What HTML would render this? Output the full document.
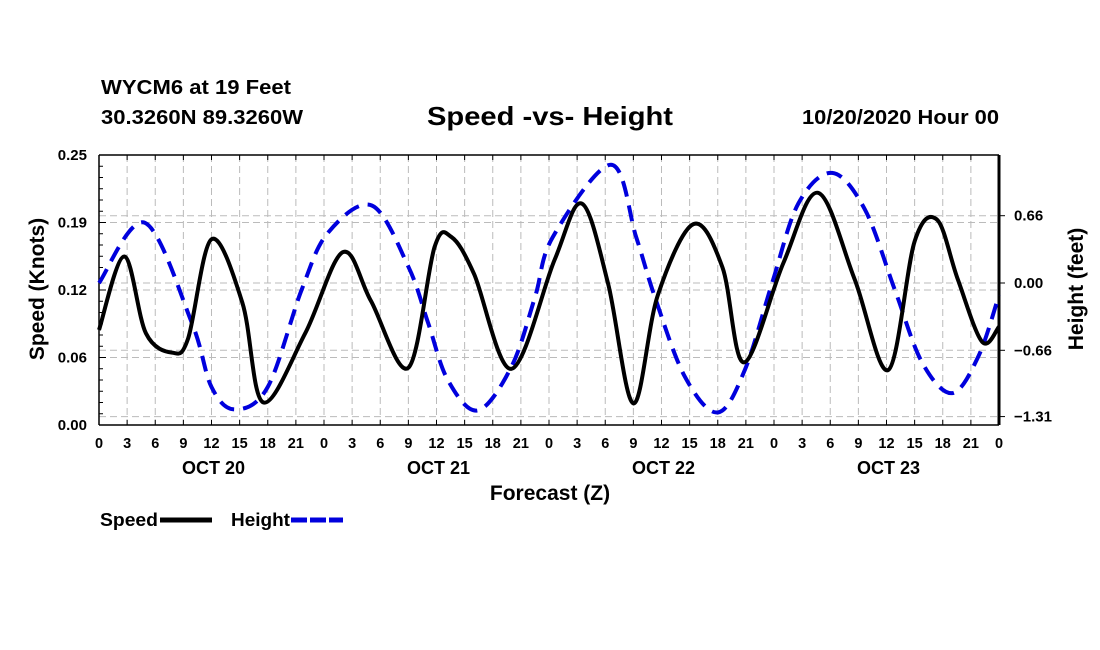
<!DOCTYPE html>
<html><head><meta charset="utf-8"><style>
body{margin:0;background:#fff;width:1100px;height:650px;overflow:hidden}
svg{display:block;font-family:"Liberation Sans",Arial,sans-serif;font-weight:bold}
</style></head><body>
<svg id="c" width="1100" height="650"></svg>
<script>
const speedHours=[0,2.7,5,7.8,9.5,12,15.3,17.5,22,26,29,33,35.8,37.6,40,44,48.6,51.5,54.3,57,59.6,63.4,66.5,68.8,73,76.7,80.6,84.2,87,89.4,91.6,94.2,96];
const speedVals=[0.088,0.156,0.085,0.067,0.08,0.172,0.113,0.021,0.085,0.160,0.115,0.053,0.165,0.174,0.14,0.052,0.153,0.205,0.131,0.020,0.120,0.186,0.146,0.058,0.15,0.215,0.135,0.051,0.170,0.190,0.135,0.077,0.091];
const heightHours=[0,4.9,9.9,12,14.5,18,21.6,24.4,29.1,33,35.1,37.2,40.4,44,46.5,48.4,54.6,57.3,59.3,62.5,66,68.9,71.8,74.6,78.2,81.7,84.9,87.8,91,93.8,96];
const heightVals=[0.0,0.59,-0.39,-1.02,-1.24,-1.02,-0.07,0.49,0.76,0.16,-0.39,-0.95,-1.25,-0.82,-0.14,0.45,1.16,0.45,-0.14,-0.92,-1.27,-0.85,0.0,0.78,1.08,0.72,-0.07,-0.78,-1.08,-0.72,-0.12];
const leftTicks=[0,0.0625,0.125,0.1875,0.25];
const leftLabels=["0.00","0.06","0.12","0.19","0.25"];
const rightTicks=[0.66,0,-0.66,-1.31];
const rightLabels=["0.66","0.00","\u22120.66","\u22121.31"];
const hourLabels=["0","3","6","9","12","15","18","21"];
const dayLabels=["OCT 20","OCT 21","OCT 22","OCT 23"];

const X0=99,X1=999,Y0=155,Y1=425;
const xs=h=>X0+h*(X1-X0)/96;
const yL=v=>Y1-v/0.25*(Y1-Y0);
const yR=v=>283-v/0.66*67.3;
const svg=document.getElementById('c');
const NS='http://www.w3.org/2000/svg';
function mk(t,a,txt){const e=document.createElementNS(NS,t);for(const k in a)e.setAttribute(k,a[k]);if(txt!==undefined)e.textContent=txt;svg.appendChild(e);return e;}

let e;
e=mk('text',{x:101,y:94,'font-size':20,textLength:190,lengthAdjust:'spacingAndGlyphs'},'WYCM6 at 19 Feet');

e=mk('text',{x:101,y:124,'font-size':20,textLength:202,lengthAdjust:'spacingAndGlyphs'},'30.3260N 89.3260W');

e=mk('text',{x:427,y:125,'font-size':26,textLength:246,lengthAdjust:'spacingAndGlyphs'},'Speed -vs- Height');

e=mk('text',{x:802,y:124,'font-size':20,textLength:197,lengthAdjust:'spacingAndGlyphs'},'10/20/2020 Hour 00');


for(let h=3;h<96;h+=3){e=mk('line',{x1:xs(h),x2:xs(h),y1:Y0,y2:Y1,stroke:'#bbb','stroke-dasharray':'7,4'});
}
leftTicks.slice(1,4).forEach(v=>{e=mk('line',{x1:X0,x2:X1,y1:yL(v),y2:yL(v),stroke:'#bbb','stroke-dasharray':'7,4'});
});
rightTicks.forEach(v=>{e=mk('line',{x1:X0,x2:X1,y1:yR(v),y2:yR(v),stroke:'#bbb','stroke-dasharray':'7,4'});
});

e=mk('line',{x1:X0,x2:X1,y1:Y0,y2:Y0,stroke:'#000','stroke-width':1.5});
e=mk('line',{x1:X0,x2:X1,y1:Y1,y2:Y1,stroke:'#000','stroke-width':1.5});
e=mk('line',{x1:X0,x2:X0,y1:Y0,y2:Y1,stroke:'#000','stroke-width':1.5});
e=mk('line',{x1:X1,x2:X1,y1:Y0,y2:Y1,stroke:'#000','stroke-width':3});

for(let h=0;h<=96;h+=3){
 mk('line',{x1:xs(h),x2:xs(h),y1:Y1,y2:Y1-5,stroke:'#000'});
 mk('line',{x1:xs(h),x2:xs(h),y1:Y0,y2:Y0+5,stroke:'#000'});
 e=mk('text',{x:xs(h),y:448,'font-size':14.5,'text-anchor':'middle'},hourLabels[(h/3)%8]);
 
}
dayLabels.forEach((d,i)=>{e=mk('text',{x:xs(12+24*i)+2,y:474,'font-size':18,'text-anchor':'middle'},d);
});
e=mk('text',{x:550,y:500,'font-size':21,'text-anchor':'middle'},'Forecast (Z)');


for(let i=0;i<=24;i++){const y=Y1-i*(Y1-Y0)/24;mk('line',{x1:X0,x2:X0+(i%6==0?7:4),y1:y,y2:y,stroke:'#000'});}
leftTicks.forEach((v,i)=>{e=mk('text',{x:87,y:yL(v)+5,'font-size':15,'text-anchor':'end'},leftLabels[i]);
});
rightTicks.forEach((v,i)=>{mk('line',{x1:X1,x2:X1+6,y1:yR(v),y2:yR(v),stroke:'#000'});
e=mk('text',{x:1014,y:yR(v)+5,'font-size':15},rightLabels[i]);
});
e=mk('text',{x:0,y:0,'font-size':21,'text-anchor':'middle',transform:'translate(44,289) rotate(-90)'},'Speed (Knots)');

e=mk('text',{x:0,y:0,'font-size':21,'text-anchor':'middle',transform:'translate(1083,289) rotate(-90)'},'Height (feet)');


function smooth(pts){let d='M'+pts[0][0]+','+pts[0][1];
 for(let i=0;i<pts.length-1;i++){const p0=pts[Math.max(i-1,0)],p1=pts[i],p2=pts[i+1],p3=pts[Math.min(i+2,pts.length-1)];
 const c1=[p1[0]+(p2[0]-p0[0])/6,p1[1]+(p2[1]-p0[1])/6],c2=[p2[0]-(p3[0]-p1[0])/6,p2[1]-(p3[1]-p1[1])/6];
 d+=` C${c1[0]},${c1[1]} ${c2[0]},${c2[1]} ${p2[0]},${p2[1]}`;}return d;}

e=mk('path',{d:smooth(heightHours.map((h,i)=>[xs(h),yR(heightVals[i])])),fill:'none',stroke:'#0000dd','stroke-width':4,'stroke-dasharray':'16,9'});

e=mk('path',{d:smooth(speedHours.map((h,i)=>[xs(h),yL(speedVals[i])])),fill:'none',stroke:'#000','stroke-width':4});


e=mk('text',{x:100,y:526,'font-size':18,textLength:58,lengthAdjust:'spacingAndGlyphs'},'Speed');
e=mk('line',{x1:160,x2:212,y1:520,y2:520,stroke:'#000','stroke-width':5});
e=mk('text',{x:231,y:526,'font-size':18,textLength:59,lengthAdjust:'spacingAndGlyphs'},'Height');
e=mk('line',{x1:291,x2:343,y1:520,y2:520,stroke:'#0000dd','stroke-width':5,'stroke-dasharray':'16,3'});
</script>
</body></html>
